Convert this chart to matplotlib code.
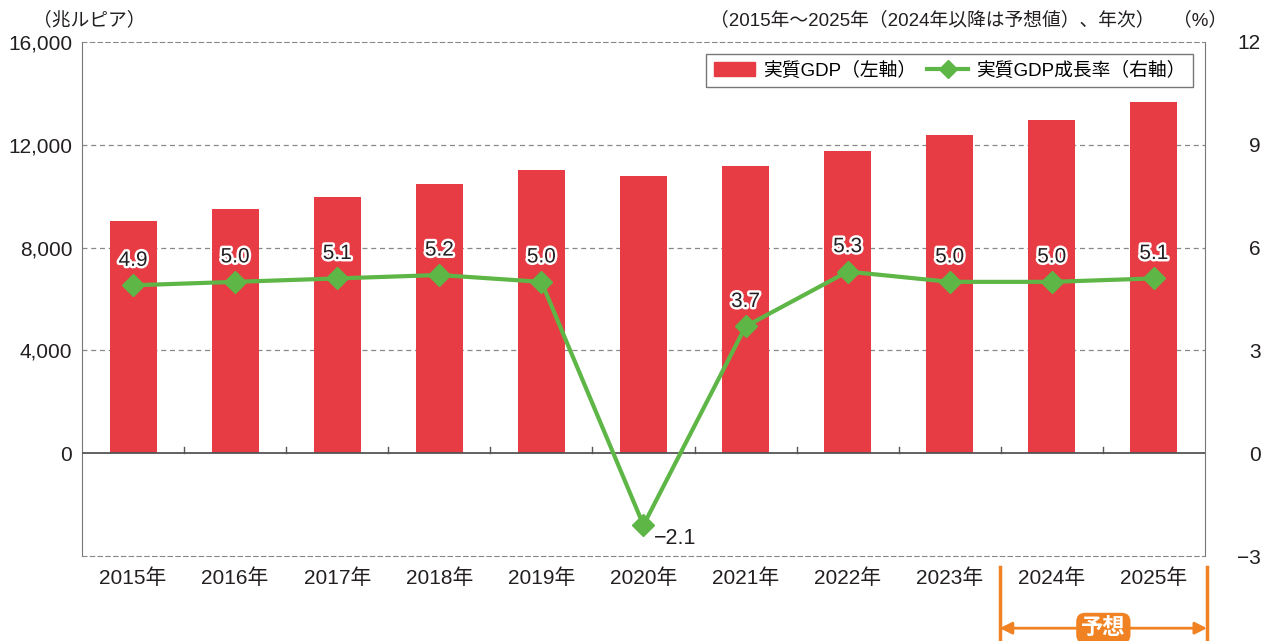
import matplotlib
matplotlib.use("Agg")
import matplotlib.pyplot as plt
import matplotlib.patheffects as pe
from matplotlib.lines import Line2D
from matplotlib.patches import Patch
import matplotlib.transforms as mtransforms

plt.rcParams['font.family'] = ['Liberation Sans', 'Noto Sans CJK JP', 'DejaVu Sans']

years = ['2015年', '2016年', '2017年', '2018年', '2019年', '2020年',
         '2021年', '2022年', '2023年', '2024年', '2025年']
gdp = [9030, 9500, 9960, 10470, 11010, 10780, 11170, 11750, 12370, 12960, 13660]
growth = [4.9, 5.0, 5.1, 5.2, 5.0, -2.1, 3.7, 5.3, 5.0, 5.0, 5.1]
growth_labels = ['4.9', '5.0', '5.1', '5.2', '5.0', '\u22122.1', '3.7', '5.3', '5.0', '5.0', '5.1']
left_ticks = [0, 4000, 8000, 12000, 16000]
right_ticks = [-3, 0, 3, 6, 9, 12]

red = '#E83C45'
green = '#5DB645'
orange = '#F08224'
gray = '#777777'
txt = '#231F20'

fig = plt.figure(figsize=(12.76, 6.41), dpi=100)
ax = fig.add_axes([0.0643, 0.1326, 0.8800, 0.8019])
ax2 = ax.twinx()

x = list(range(len(years)))
ax.bar(x, gdp, width=0.46, color=red, zorder=2)
ax.set_xlim(-0.5, len(years) - 0.5)
ax.set_ylim(-4000, 16000)
ax.set_yticks(left_ticks)
ax.set_yticklabels([f'{v:,}' for v in left_ticks], fontsize=15, color=txt)
ax.set_xticks(x)
ax.set_xticklabels(years, fontsize=15, color=txt)
ax.tick_params(axis='y', length=0, pad=7)
ax.tick_params(axis='x', length=0, pad=9)
for v in [4000, 8000, 12000]:
    ax.axhline(v, color='#888888', lw=0.9, ls=(0, (4, 3)), zorder=1)
ax.axhline(0, color='#555555', lw=1.3, zorder=3)
for b in range(1, len(years)):
    ax.plot([b - 0.5, b - 0.5], [0, 260], color='#555555', lw=1.0, zorder=3)

for s in ['top', 'bottom']:
    ax.spines[s].set_linestyle((0, (4, 3)))
    ax.spines[s].set_color('#888888')
for s in ['left', 'right']:
    ax.spines[s].set_color(gray)
for s in ax2.spines.values():
    s.set_visible(False)

ax2.plot(x, growth, color=green, lw=3, marker='D', ms=11, zorder=5)
ax2.set_ylim(-3, 12)
ax2.set_yticks(right_ticks)
ax2.set_yticklabels([str(v).replace('-', '\u2212') for v in right_ticks], fontsize=15, color=txt,
                    ha='right')
ax2.tick_params(length=0, pad=40)
ax2.set_xlim(-0.5, len(years) - 0.5)

stroke = [pe.withStroke(linewidth=3.5, foreground='white')]
for i, (g, lab) in enumerate(zip(growth, growth_labels)):
    if g < 0:
        ax2.text(i + 0.1, g - 0.4, lab, fontsize=15.5, color=txt, ha='left', va='center')
    else:
        ax2.text(i, g + 0.45, lab, fontsize=15, color=txt, ha='center', va='bottom',
                 path_effects=stroke, zorder=6)

handles = [Patch(color=red, label='実質GDP（左軸）'),
           Line2D([], [], color=green, lw=3, marker='D', ms=9, label='実質GDP成長率（右軸）')]
leg = ax2.legend(handles=handles, loc='upper right', ncol=2, fontsize=13.5,
                 bbox_to_anchor=(0.9975, 0.995), frameon=True, fancybox=False,
                 edgecolor='#555555', handlelength=2.2, columnspacing=0.6,
                 handletextpad=0.4, borderpad=0.4)
leg.get_frame().set_linewidth(1.0)

fig.text(0.026, 0.968, '（兆ルピア）', fontsize=13.5, color=txt, ha='left', va='center')
fig.text(0.905, 0.968, '（2015年～2025年（2024年以降は予想値）、年次）', fontsize=13.5,
         color=txt, ha='right', va='center')
fig.text(0.962, 0.968, '（%）', fontsize=13.5, color=txt, ha='right', va='center')

# forecast bracket
trans = mtransforms.blended_transform_factory(ax.transData, fig.transFigure)
x0, x1 = 8.49, 10.52
for xv in [x0, x1]:
    fig.add_artist(Line2D([xv, xv], [0.0, 0.115], transform=trans, color=orange, lw=2.5))
ax.annotate('', xy=(x0, 0.02), xytext=(x1, 0.02), xycoords=trans, textcoords=trans,
            arrowprops=dict(arrowstyle='<|-|>', color=orange, lw=2, mutation_scale=18,
                            shrinkA=0, shrinkB=0), annotation_clip=False)
ax.text((x0 + x1) / 2, 0.02, '予想', transform=trans, fontsize=16, fontweight='bold',
        color='white', ha='center', va='center',
        bbox=dict(boxstyle='round,pad=0.22,rounding_size=0.4', fc=orange, ec='none'))

fig.savefig('out.png', dpi=100)
